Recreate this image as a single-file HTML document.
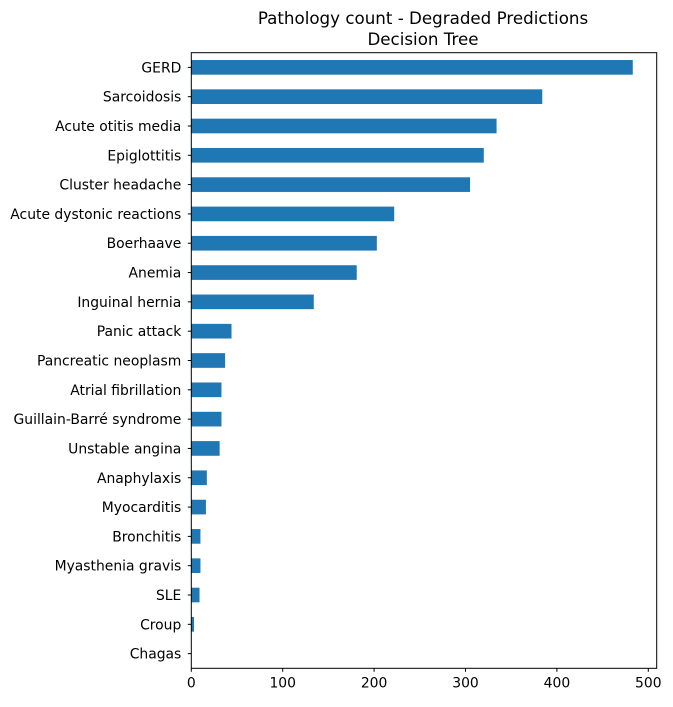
<!DOCTYPE html>
<html><head><meta charset="utf-8"><style>
body{margin:0;background:#fff}
svg text{font-family:"DejaVu Sans","Liberation Sans",sans-serif;fill:#000}
</style></head><body>
<svg id="chart" width="673" height="702" xmlns="http://www.w3.org/2000/svg">
<text x="423" y="24" font-size="16.7" text-anchor="middle">Pathology count - Degraded Predictions</text>
<text x="423" y="45" font-size="16.7" text-anchor="middle">Decision Tree</text>
<g id="bars"></g><g id="yticks"></g><g id="xticks"></g>
<rect x="191.3" y="52.7" width="465.4" height="615.6" fill="none" stroke="#000" stroke-width="1"/>
</svg>
<script>
const categories=["GERD","Sarcoidosis","Acute otitis media","Epiglottitis","Cluster headache","Acute dystonic reactions","Boerhaave","Anemia","Inguinal hernia","Panic attack","Pancreatic neoplasm","Atrial fibrillation","Guillain-Barré syndrome","Unstable angina","Anaphylaxis","Myocarditis","Bronchitis","Myasthenia gravis","SLE","Croup","Chagas"];
const counts=[483,384,334,320,305,222,203,181,134,44,37,33,33,31,17,16,10,10,9,3,0];
const xTicks=[0,100,200,300,400,500];
const L=191.3,T=52.7,B=668.3,S=0.914;
const band=(B-T)/categories.length;
const x=v=>L+v*S;
const y=i=>T+band*(i+0.5);
const NS="http://www.w3.org/2000/svg";
const bars=document.getElementById('bars'),yt=document.getElementById('yticks'),xt=document.getElementById('xticks');
categories.forEach((c,i)=>{
 const r=document.createElementNS(NS,'rect');
 r.setAttribute('x',x(0));r.setAttribute('y',y(i)-band*0.25);
 r.setAttribute('width',Math.max(0,x(counts[i])-x(0)));r.setAttribute('height',band*0.5);
 r.setAttribute('fill','#1f77b4');
 
 
 bars.appendChild(r);
 const l=document.createElementNS(NS,'line');
 l.setAttribute('x1',L-3.5);l.setAttribute('x2',L);l.setAttribute('y1',y(i));l.setAttribute('y2',y(i));l.setAttribute('stroke','#000');
 yt.appendChild(l);
 const t=document.createElementNS(NS,'text');
 t.setAttribute('x',L-10);t.setAttribute('y',y(i)+5);t.setAttribute('font-size','13.9');t.setAttribute('text-anchor','end');
 t.textContent=c;
 
 
 yt.appendChild(t);
});
xTicks.forEach(v=>{
 const l=document.createElementNS(NS,'line');
 l.setAttribute('x1',x(v));l.setAttribute('x2',x(v));l.setAttribute('y1',B);l.setAttribute('y2',B+3.5);l.setAttribute('stroke','#000');
 xt.appendChild(l);
 const t=document.createElementNS(NS,'text');
 t.setAttribute('x',x(v));t.setAttribute('y',B+19);t.setAttribute('font-size','13.9');t.setAttribute('text-anchor','middle');
 t.textContent=v;
 
 
 xt.appendChild(t);
});
</script>
</body></html>
